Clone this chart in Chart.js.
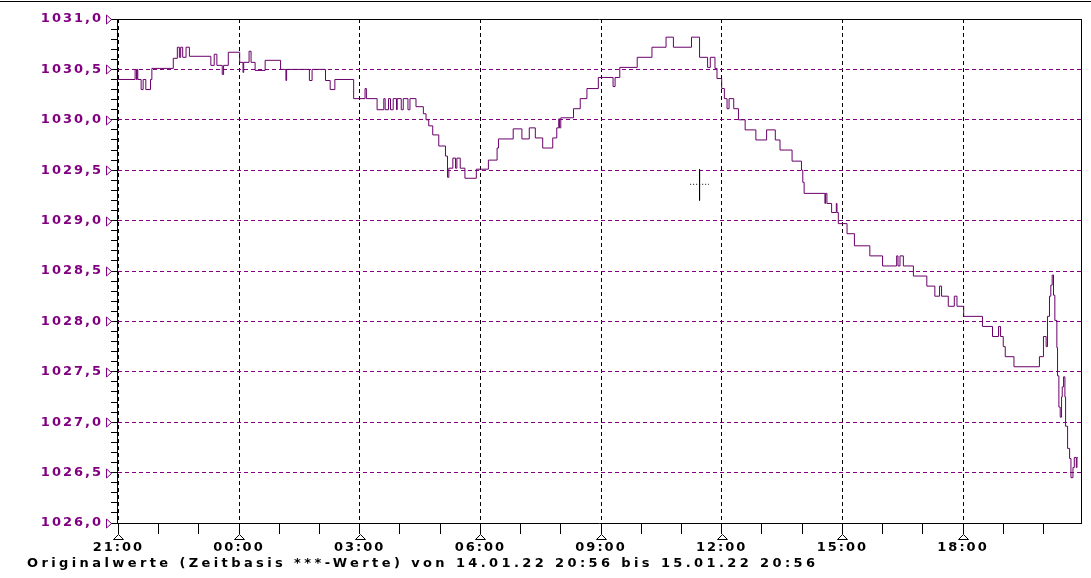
<!DOCTYPE html>
<html>
<head>
<meta charset="utf-8">
<script src="https://cdn.jsdelivr.net/npm/chart.js@4.4.1/dist/chart.umd.min.js"></script>
<style>
  html, body { margin: 0; padding: 0; background: #fff; }
  #wrap { position: relative; width: 1091px; height: 578px; overflow: hidden; }
  #topline { position: absolute; left: 0; top: 1px; width: 1091px; height: 1px; background: #000; }
  #footer { position: absolute; left: 27px; top: 555px; font: bold 13px "DejaVu Sans"; line-height: 15px; color: #000; white-space: nowrap; }
  canvas { position: absolute; left: 0; top: 0; }
</style>
</head>
<body>
<div id="wrap">
  <canvas id="chart" width="1091" height="578"></canvas>
  <div id="topline"></div>
  <div id="footer">Originalwerte (Zeitbasis ***-Werte) von 14.01.22 20:56 bis 15.01.22 20:56</div>
</div>
<script>
// Luftdruck, Minuten nach 14.01.22 21:00 und Wert (stufig)
const minutes = [
  -2, 25, 27, 28, 29, 34, 37, 41, 48, 50, 82, 88, 91, 93, 96, 101, 106, 138, 143, 147,
  155, 157, 164, 181, 186, 187, 195, 198, 204, 219, 242, 250, 251, 285, 289, 309, 316, 323, 351, 368,
  370, 386, 396, 398, 403, 406, 410, 415, 416, 422, 425, 432, 435, 444, 455, 459, 463, 469, 478, 488,
  491, 493, 499, 503, 505, 510, 517, 534, 552, 565, 567, 589, 602, 613, 622, 633, 648, 654, 657, 658,
  660, 679, 689, 699, 716, 738, 741, 748, 774, 796, 817, 828, 855, 867, 879, 883, 890, 893, 900, 904,
  908, 911, 918, 925, 935, 951, 967, 980, 987, 1005, 1019, 1021, 1023, 1054, 1055, 1057, 1064, 1071, 1072, 1074,
  1087, 1098, 1121, 1140, 1161, 1163, 1166, 1171, 1186, 1206, 1218, 1225, 1228, 1238, 1247, 1251, 1261, 1289, 1304, 1313,
  1316, 1320, 1323, 1336, 1374, 1380, 1384, 1386, 1389, 1391, 1393, 1395, 1397, 1400, 1401, 1403, 1405, 1407, 1408, 1410,
  1412, 1413, 1416, 1419, 1421, 1424, 1426, 1429, 1430, 1431
];
const pressure = [
  1030.40, 1030.50, 1030.40, 1030.50, 1030.40, 1030.30, 1030.40, 1030.30, 1030.40, 1030.51, 1030.61, 1030.72, 1030.62, 1030.72, 1030.62, 1030.72, 1030.63, 1030.54, 1030.65, 1030.54,
  1030.45, 1030.54, 1030.67, 1030.57, 1030.47, 1030.57, 1030.68, 1030.57, 1030.49, 1030.59, 1030.50, 1030.39, 1030.50, 1030.39, 1030.50, 1030.39, 1030.30, 1030.40, 1030.21, 1030.31,
  1030.21, 1030.10, 1030.21, 1030.10, 1030.21, 1030.10, 1030.21, 1030.10, 1030.21, 1030.10, 1030.21, 1030.10, 1030.21, 1030.13, 1030.06, 1030.00, 1029.94, 1029.85, 1029.74, 1029.64,
  1029.43, 1029.52, 1029.62, 1029.52, 1029.62, 1029.52, 1029.42, 1029.51, 1029.60, 1029.72, 1029.81, 1029.91, 1029.81, 1029.92, 1029.82, 1029.72, 1029.82, 1029.92, 1030.01, 1029.92,
  1030.02, 1030.11, 1030.21, 1030.31, 1030.42, 1030.33, 1030.42, 1030.52, 1030.62, 1030.72, 1030.82, 1030.72, 1030.82, 1030.62, 1030.52, 1030.62, 1030.51, 1030.41, 1030.31, 1030.21,
  1030.11, 1030.21, 1030.11, 1030.00, 1029.90, 1029.80, 1029.90, 1029.80, 1029.70, 1029.59, 1029.50, 1029.38, 1029.27, 1029.17, 1029.27, 1029.17, 1029.08, 1029.17, 1029.08, 1028.97,
  1028.87, 1028.75, 1028.65, 1028.55, 1028.65, 1028.55, 1028.65, 1028.55, 1028.45, 1028.35, 1028.25, 1028.35, 1028.25, 1028.15, 1028.25, 1028.15, 1028.05, 1027.95, 1027.85, 1027.95,
  1027.85, 1027.75, 1027.65, 1027.55, 1027.65, 1027.85, 1027.75, 1028.05, 1028.25, 1028.36, 1028.46, 1028.26, 1028.01, 1027.74, 1027.46, 1027.15, 1027.05, 1027.25, 1027.35, 1027.45,
  1027.25, 1026.96, 1026.74, 1026.64, 1026.45, 1026.55, 1026.65, 1026.55, 1026.65, 1026.65
];

// Markierung um 11:27
const markTimes = [867, 867];
const markValues = [1029.51, 1029.20];
const crossTimes = [853, 881];
const crossValues = [1029.36, 1029.36];

const xTickLabels = ['21:00', '00:00', '03:00', '06:00', '09:00', '12:00', '15:00', '18:00'];
const yTickLabels = ['1026,0', '1026,5', '1027,0', '1027,5', '1028,0', '1028,5', '1029,0', '1029,5', '1030,0', '1030,5', '1031,0'];

const PURPLE = '#800080';
const LINE = '#6a006a';
const FONT = { family: 'DejaVu Sans', size: 13, weight: 'bold' };

// Fusszeile auf Breite bringen
const footer = document.getElementById('footer');
const natural = footer.getBoundingClientRect().width;
footer.style.letterSpacing = ((788 - natural) / (footer.textContent.length - 1)) + 'px';

const decor = {
  id: 'decor',
  beforeDraw(chart) {
    chart.ctx.letterSpacing = '2px';
  },
  afterDraw(chart) {
    const { ctx, chartArea: a, scales: { x, y } } = chart;
    ctx.save();
    ctx.letterSpacing = '0px';
    ctx.lineWidth = 1;
    ctx.setLineDash([]);
    ctx.strokeStyle = '#000';
    ctx.beginPath();
    ctx.moveTo(a.left, a.top + 0.5);
    ctx.lineTo(a.right + 1, a.top + 0.5);
    ctx.moveTo(a.right + 0.5, a.top);
    ctx.lineTo(a.right + 0.5, a.bottom + 1);
    ctx.stroke();

    xTickLabels.forEach((_, i) => {
      const px = Math.round(x.getPixelForValue(i * 180)) + 0.5;
      ctx.beginPath();
      ctx.moveTo(px, a.bottom + 11.5);
      ctx.lineTo(px - 5, a.bottom + 16.5);
      ctx.lineTo(px + 5, a.bottom + 16.5);
      ctx.closePath();
      ctx.stroke();
    });

    ctx.strokeStyle = PURPLE;
    yTickLabels.forEach(lbl => {
      const py = Math.round(y.getPixelForValue(parseFloat(lbl.replace(',', '.')))) + 0.5;
      ctx.beginPath();
      ctx.moveTo(a.left - 5.5, py);
      ctx.lineTo(a.left - 10.5, py - 4.5);
      ctx.lineTo(a.left - 10.5, py + 4.5);
      ctx.closePath();
      ctx.stroke();
    });
    ctx.restore();
  }
};

new Chart(document.getElementById('chart'), {
  type: 'line',
  data: {
    datasets: [{
      data: minutes.map((m, i) => ({ x: m, y: pressure[i] })),
      borderColor: LINE,
      borderWidth: 1,
      pointRadius: 0,
      stepped: true,
      fill: false
    }, {
      data: markTimes.map((m, i) => ({ x: m, y: markValues[i] })),
      borderColor: '#000',
      borderWidth: 1,
      pointRadius: 0
    }, {
      data: crossTimes.map((m, i) => ({ x: m, y: crossValues[i] })),
      borderColor: '#000',
      borderWidth: 1,
      borderDash: [1, 2],
      pointRadius: 0
    }]
  },
  options: {
    responsive: false,
    animation: false,
    events: [],
    layout: { padding: { top: 19, right: 10, left: 0, bottom: 0 } },
    plugins: { legend: { display: false }, tooltip: { enabled: false } },
    scales: {
      x: {
        type: 'linear',
        min: -2,
        max: 1436,
        afterBuildTicks: s => {
          s.ticks = [];
          for (let m = 0; m < 1436; m += 60) s.ticks.push({ value: m });
        },
        afterFit: s => { s.height = 55; },
        grid: {
          color: c => c.index % 3 === 0 ? '#000' : 'rgba(0,0,0,0)',
          tickColor: '#000',
          tickLength: 11
        },
        border: { color: '#000', dash: [4, 3] },
        ticks: {
          autoSkip: false,
          maxRotation: 0,
          padding: 6,
          color: '#000',
          font: FONT,
          callback: (v, i) => i % 3 === 0 ? xTickLabels[i / 3] : ''
        }
      },
      y: {
        min: 1026,
        max: 1031,
        afterBuildTicks: s => {
          s.ticks = [];
          for (let i = 0; i <= 50; i++) s.ticks.push({ value: 1026 + i / 10 });
        },
        afterFit: s => { s.width = 117; },
        grid: {
          color: c => c.index % 5 === 0 ? PURPLE : 'rgba(0,0,0,0)',
          tickColor: '#000',
          tickLength: 6
        },
        border: { color: '#000', dash: [4, 3] },
        ticks: {
          autoSkip: false,
          padding: 8,
          color: PURPLE,
          font: FONT,
          callback: (v, i) => i % 5 === 0 ? yTickLabels[i / 5] : ''
        }
      }
    }
  },
  plugins: [decor]
});
</script>
</body>
</html>
